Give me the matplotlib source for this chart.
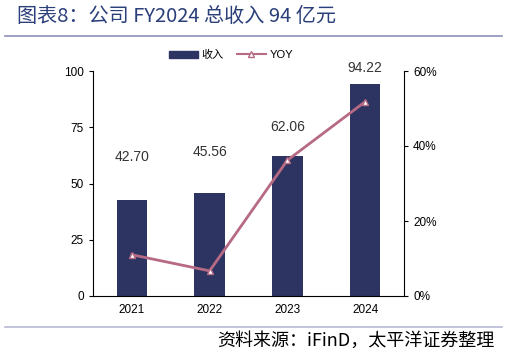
import matplotlib
matplotlib.use("Agg")
import matplotlib.pyplot as plt
from matplotlib.lines import Line2D
from matplotlib.patches import Patch

plt.rcParams['font.family'] = ['Liberation Sans', 'Noto Sans CJK SC', 'DejaVu Sans']

years = ["2021", "2022", "2023", "2024"]
revenue = [42.70, 45.56, 62.06, 94.22]
yoy = [11.0, 6.7, 36.2, 51.8]
rev_labels = ["42.70", "45.56", "62.06", "94.22"]
label_offsets = [19.0, 18.5, 13.0, 7.0]

bar_color = "#2E3461"
line_color = "#B76A84"

fig = plt.figure(figsize=(5.07, 3.54), dpi=100)
ax = fig.add_axes([93/507, 1-296/354, (404-93)/507, (296-71)/354])
x = list(range(len(years)))
ax.bar(x, revenue, width=0.39, color=bar_color, zorder=2)
for xi, v, lab, off in zip(x, revenue, rev_labels, label_offsets):
    ax.text(xi, v + off, lab, ha='center', va='center', fontsize=10, color='#333333',
            clip_on=False)
ax.set_ylim(0, 100)
ax.set_xlim(-0.5, 3.5)
ax.set_yticks([0, 25, 50, 75, 100])
ax.set_xticks(x)
ax.set_xticklabels(years)
ax.tick_params(axis='both', labelsize=8.5, length=3, width=0.8, colors='black')
ax.tick_params(axis='x', length=0, pad=6)
for s in ['top', 'right']:
    ax.spines[s].set_visible(False)
ax.spines['left'].set_linewidth(0.8)
ax.spines['bottom'].set_linewidth(0.8)

ax2 = ax.twinx()
ax2.plot(x, yoy, color=line_color, lw=2, marker='^', markersize=4,
         markerfacecolor='white', markeredgecolor=line_color, zorder=3)
ax2.set_ylim(0, 60)
ax2.set_yticks([0, 20, 40, 60])
ax2.set_yticklabels(["0%", "20%", "40%", "60%"])
ax2.tick_params(axis='y', labelsize=8.5, length=3, width=0.8)
for s in ['top', 'left', 'bottom']:
    ax2.spines[s].set_visible(False)
ax2.spines['right'].set_linewidth(0.8)

handles = [Patch(facecolor=bar_color, edgecolor=bar_color),
           Line2D([0], [0], color=line_color, lw=1.5, marker='^', markersize=4,
                  markerfacecolor='white', markeredgecolor=line_color)]
fig.legend(handles, ["收入", "YOY"], loc='center', bbox_to_anchor=(231/507, 1-55/354),
           ncol=2, frameon=False, fontsize=8, handlelength=2.6, handleheight=0.6,
           columnspacing=1.2, handletextpad=0.3)

fig.text(17/507, 1-17/354, "图表8：公司 FY2024 总收入 94 亿元", fontsize=14.5,
         color='#2B3F7A', va='center', ha='left', family=['Noto Sans CJK SC', 'DejaVu Sans'])
fig.add_artist(Line2D([5/507, 502/507], [1-36/354, 1-36/354], color='#8C90B8', lw=1.2))
fig.add_artist(Line2D([5/507, 502/507], [1-327/354, 1-327/354], color='#B8B8D4', lw=1.2))
fig.text(494/507, 1-341/354, "资料来源：iFinD，太平洋证券整理", fontsize=13,
         color='black', va='center', ha='right', style='italic',
         family=['Noto Sans CJK SC', 'DejaVu Sans'])

fig.savefig("out.png", dpi=100)
